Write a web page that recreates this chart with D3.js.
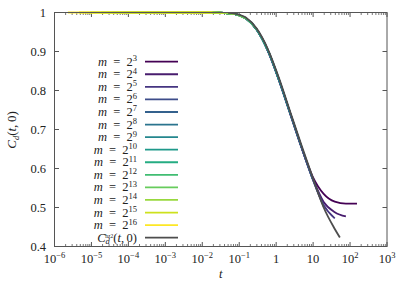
<!DOCTYPE html>
<html><head><meta charset="utf-8">
<script src="https://cdn.jsdelivr.net/npm/d3@7"></script>
<style>body{margin:0;background:#fff}svg{display:block}</style>
</head><body><svg id="c" width="411" height="288" font-family="Liberation Serif, DejaVu Serif, serif"></svg>
<script>
// ---- data ----
const xTickExps = [-6,-5,-4,-3,-2,-1,0,1,2,3];
const yTicks = [0.4,0.5,0.6,0.7,0.8,0.9,1];
const mExps = [3,4,5,6,7,8,9,10,11,12,13,14,15,16];
// common time grid (each series m=2^k uses 14 consecutive points starting at index 16-k)
const tGrid = [2.3e-6,4.6e-6,9.2e-6,1.84e-5,3.68e-5,7.36e-5,1.47e-4,2.94e-4,5.89e-4,1.18e-3,2.36e-3,4.71e-3,9.42e-3,0.0188,0.0377,0.0754,0.151,0.301,0.603,1.21,2.41,4.82,9.65,19.3,38.6,77.2,154];
const c_m3  = [1,0.999,0.996,0.985,0.955,0.900,0.824,0.740,0.655,0.580,0.535,0.515,0.510,0.510];
const c_m4  = [1,1,0.999,0.996,0.985,0.955,0.901,0.825,0.740,0.655,0.576,0.514,0.488,0.477];
const c_m5  = [1,1,1,0.999,0.996,0.985,0.955,0.901,0.825,0.741,0.655,0.574,0.506,0.472];
const c_m6  = [1,1,1,1,0.999,0.996,0.985,0.956,0.902,0.826,0.741,0.656,0.574,0.503];
const c_m7  = [1,1,1,1,1,0.999,0.996,0.985,0.956,0.902,0.826,0.741,0.656,0.574];
const c_m8  = [1,1,1,1,1,1,0.999,0.996,0.985,0.956,0.902,0.826,0.741,0.656];
const c_m9  = [1,1,1,1,1,1,1,0.999,0.996,0.985,0.956,0.902,0.826,0.741];
const c_m10 = [1,1,1,1,1,1,1,1,0.999,0.996,0.985,0.956,0.902,0.826];
const c_m11 = [1,1,1,1,1,1,1,1,1,0.999,0.996,0.985,0.956,0.902];
const c_m12 = [1,1,1,1,1,1,1,1,1,1,0.999,0.996,0.985,0.956];
const c_m13 = [1,1,1,1,1,1,1,1,1,1,1,0.999,0.996,0.985];
const c_m14 = [1,1,1,1,1,1,1,1,1,1,1,1,0.999,0.996];
const c_m15 = [1,1,1,1,1,1,1,1,1,1,1,1,1,0.999];
const c_m16 = [1,1,1,1,1,1,1,1,1,1,1,1,1,1];
const tHz = [0.05,0.0754,0.151,0.301,0.603,1.21,2.41,4.82,9.65,19.3,38.6,53];
const cHz = [0.999,0.997,0.987,0.958,0.905,0.830,0.745,0.660,0.578,0.500,0.445,0.423];

const cM = [c_m3,c_m4,c_m5,c_m6,c_m7,c_m8,c_m9,c_m10,c_m11,c_m12,c_m13,c_m14,c_m15,c_m16];

// ---- layout ----
const FF = "Liberation Serif, DejaVu Serif, serif";
const FS = 12.5, SUP = 8.5;
const svg = d3.select("#c");
const L=54.5, R=387, T=12.5, B=246.5;
const x = d3.scaleLog().domain([1e-6,1e3]).range([L,R]);
const y = d3.scaleLinear().domain([0.4,1]).range([B,T]);
const axisCol = "#555";
const txt = (sel)=>sel.append("text").attr("font-family",FF).attr("fill","#222");

// ticks
const g = svg.append("g");
const minor = [];
for (let e=-6;e<3;e++) for (let k=2;k<10;k++) minor.push(k*Math.pow(10,e));
const major = xTickExps.map(e=>Math.pow(10,e));
major.forEach(v=>{
  g.append("line").attr("x1",x(v)).attr("x2",x(v)).attr("y1",B).attr("y2",B-4.5).attr("stroke",axisCol);
  g.append("line").attr("x1",x(v)).attr("x2",x(v)).attr("y1",T).attr("y2",T+4.5).attr("stroke",axisCol);
});
minor.forEach(v=>{
  g.append("line").attr("x1",x(v)).attr("x2",x(v)).attr("y1",B).attr("y2",B-2.5).attr("stroke",axisCol).attr("stroke-width",0.8);
  g.append("line").attr("x1",x(v)).attr("x2",x(v)).attr("y1",T).attr("y2",T+2.5).attr("stroke",axisCol).attr("stroke-width",0.8);
});
yTicks.forEach(v=>{
  g.append("line").attr("x1",L).attr("x2",L+4.5).attr("y1",y(v)).attr("y2",y(v)).attr("stroke",axisCol);
  g.append("line").attr("x1",R).attr("x2",R-4.5).attr("y1",y(v)).attr("y2",y(v)).attr("stroke",axisCol);
});

// x tick labels
xTickExps.forEach(e=>{
  const t = txt(svg).attr("x",x(Math.pow(10,e))).attr("y",263).attr("text-anchor","middle").attr("font-size",FS);
  if (e===0) t.text("1");
  else if (e===1) t.text("10");
  else { t.append("tspan").text("10"); t.append("tspan").attr("dy",-5).attr("font-size",SUP).text(e<0?"\u2212"+(-e):String(e)); }
});
// y tick labels
yTicks.forEach(v=>{
  txt(svg).attr("x",46).attr("y",y(v)+4.5).attr("text-anchor","end").attr("font-size",FS).text(v===1?"1":v.toFixed(1));
});
// axis titles
txt(svg).attr("x",(L+R)/2).attr("y",278).attr("text-anchor","middle").attr("font-size",FS).attr("font-style","italic").text("t");
const yl = txt(svg).attr("transform","translate(16,130) rotate(-90)").attr("text-anchor","middle").attr("font-size",13);
yl.append("tspan").attr("font-style","italic").text("C");
yl.append("tspan").attr("font-style","italic").attr("font-size",SUP).attr("dy",2.5).text("d");
yl.append("tspan").attr("dy",-2.5).text("(");
yl.append("tspan").attr("font-style","italic").text("t");
yl.append("tspan").text(",\u20090)");

// series
const colors = mExps.map((k,i)=>d3.interpolateViridis(i/13));
const line = d3.line().x(d=>x(d[0])).y(d=>y(d[1])).curve(d3.curveMonotoneX);
const plot = svg.append("g");
mExps.forEach((k,i)=>{
  const s = 16-k;
  const pts = cM[i].map((c,j)=>[tGrid[s+j],c]);
  plot.append("path").attr("d",line(pts)).attr("fill","none").attr("stroke",colors[i]).attr("stroke-width",1.8);
});
plot.append("path").attr("d",line(tHz.map((t,i)=>[t,cHz[i]]))).attr("fill","none").attr("stroke","#4d4d4d").attr("stroke-width",1.8);

// border
svg.append("rect").attr("x",L).attr("y",T).attr("width",R-L).attr("height",B-T).attr("fill","none").attr("stroke",axisCol).attr("stroke-width",1);

// legend
const ly0 = 61.7, ldy = 12.57;
mExps.forEach((k,i)=>{
  const yy = ly0+i*ldy;
  const t = txt(svg).attr("x",137).attr("y",yy+4).attr("text-anchor","end").attr("font-size",FS);
  t.append("tspan").attr("font-style","italic").text("m");
  t.append("tspan").text("\u2002=\u20022");
  t.append("tspan").attr("dy",-4.5).attr("font-size",SUP).text(String(k));
  svg.append("line").attr("x1",145).attr("x2",178).attr("y1",yy).attr("y2",yy).attr("stroke",colors[i]).attr("stroke-width",1.8);
});
{
  const yy = ly0+14*ldy;
  const t = txt(svg).attr("x",137).attr("y",yy+4).attr("text-anchor","end").attr("font-size",FS);
  t.append("tspan").attr("font-style","italic").text("C");
  t.append("tspan").attr("font-style","italic").attr("font-size",SUP).attr("dy",2.5).text("d");
  t.append("tspan").attr("font-size",5.5).attr("dx",-4.5).attr("dy",-6.5).text("hz2");
  t.append("tspan").attr("dy",4).text("(");
  t.append("tspan").attr("font-style","italic").text("t");
  t.append("tspan").text(",\u20090)");
  svg.append("line").attr("x1",145).attr("x2",178).attr("y1",yy).attr("y2",yy).attr("stroke","#4d4d4d").attr("stroke-width",1.8);
}
</script></body></html>
